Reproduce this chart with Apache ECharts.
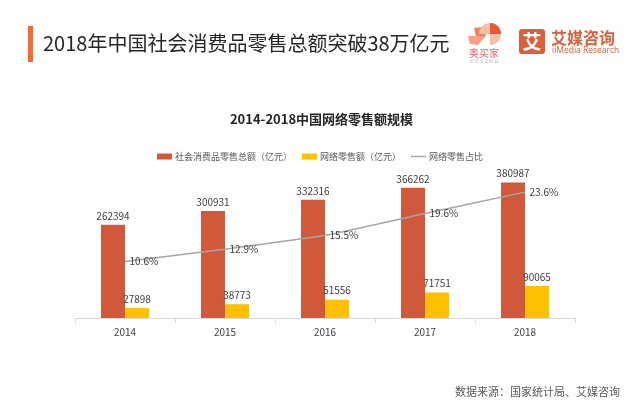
<!DOCTYPE html>
<html><head><meta charset="utf-8">
<script src="https://cdn.jsdelivr.net/npm/echarts@6/dist/echarts.min.js"></script>
<style>html,body{margin:0;padding:0;background:#fff}#c{width:643px;height:401px}</style>
</head><body><div id="c"></div>
<script>
const categories = ['2014','2015','2016','2017','2018'];
const retailTotal = [262394, 300931, 332316, 366262, 380987];
const onlineRetail = [27898, 38773, 51556, 71751, 90065];
const onlineShare = [10.6, 12.9, 15.5, 19.6, 23.6];
const seriesNames = ['社会消费品零售总额（亿元）', '网络零售额（亿元）', '网络零售占比'];

const FF = '"Noto Sans CJK SC", "Noto Sans", sans-serif';
const chart = echarts.init(document.getElementById('c'), null, {renderer: 'canvas'});
chart.setOption({
  backgroundColor: '#fff',
  animation: false,
  textStyle: {fontFamily: FF},
  title: [{
    text: '2014-2018中国网络零售额规模',
    left: 'center', top: 108,
    textStyle: {fontSize: 13, fontWeight: 'bold', color: '#262626', fontFamily: FF}
  }],
  legend: {
    left: 152, top: 147,
    itemWidth: 15, itemHeight: 6, itemGap: 10,
    symbolKeepAspect: true,
    textStyle: {fontSize: 9, color: '#595959', fontFamily: FF, padding: [0,0,0,-2]},
    data: [
      {name: seriesNames[0], icon: 'rect'},
      {name: seriesNames[1], icon: 'rect'},
      {name: seriesNames[2], icon: 'path://M0,0H15V1.5H0Z', itemStyle: {color: '#a6a6a6', opacity: 1}}
    ]
  },
  grid: {left: 75, right: 68, top: 158, bottom: 83},
  xAxis: {
    type: 'category', data: categories,
    axisLine: {lineStyle: {color: '#d9d9d9'}},
    axisTick: {show: true, length: 5, lineStyle: {color: '#d9d9d9'}},
    axisLabel: {fontSize: 10, color: '#404040', margin: 9, fontFamily: FF}
  },
  yAxis: [
    {type: 'value', min: 0, max: 450000, show: false, splitLine: {show: false}},
    {type: 'value', min: 0, max: 30, show: false, splitLine: {show: false}}
  ],
  series: [
    {
      name: seriesNames[0], type: 'bar', data: retailTotal,
      barWidth: 24, barGap: '0%',
      itemStyle: {color: '#d0583b'},
      label: {show: true, position: 'top', distance: 4, fontSize: 10, color: '#404040', fontFamily: FF}
    },
    {
      name: seriesNames[1], type: 'bar', data: onlineRetail,
      barWidth: 24, barGap: '0%',
      itemStyle: {color: '#ffc000'},
      label: {show: true, position: 'top', distance: 4, fontSize: 10, color: '#404040', fontFamily: FF}
    },
    {
      name: seriesNames[2], type: 'line', yAxisIndex: 1, data: onlineShare,
      symbol: 'circle', symbolSize: 1, showSymbol: true, smooth: 0.15,
      lineStyle: {color: '#a6a6a6', width: 1.5},
      itemStyle: {color: 'rgba(166,166,166,0)'},
      label: {show: true, position: 'right', distance: 4, fontSize: 10, color: '#404040',
              formatter: p => p.value.toFixed(1) + '%', fontFamily: FF}
    }
  ],
  graphic: [
    {type: 'rect', shape: {x: 28, y: 26, width: 5, height: 36}, style: {fill: '#f26b3a'}},
    {type: 'text', x: 43, y: 43, style: {text: '2018年中国社会消费品零售总额突破38万亿元', fontSize: 20, fill: '#262626', fontFamily: FF, verticalAlign: 'middle'}},
    // 奥买家 logo
    {type: 'polygon', shape: {points: [[468,36],[486,36],[478,45],[470,44]]}, style: {fill: '#f6a08a'}},
    {type: 'polygon', shape: {points: [[474,28],[484,27],[486,36],[476,36]]}, style: {fill: '#ef8060'}},
    {type: 'sector', shape: {cx: 490, cy: 34, r: 11, r0: 0, startAngle: Math.PI, endAngle: Math.PI*2.5}, style: {fill: '#f4c0a8'}},
    {type: 'sector', shape: {cx: 490, cy: 34, r: 11, r0: 0, startAngle: Math.PI*1.5, endAngle: Math.PI*2.0}, style: {fill: '#e8573a'}},
    {type: 'text', x: 484, y: 53, style: {text: '奥买家', fontSize: 10, fill: '#ef6476', fontFamily: FF, align: 'center', verticalAlign: 'middle'}},
    {type: 'text', x: 484, y: 61, style: {text: '全 球 进 口 商 品', fontSize: 4, fill: '#bbbbbb', fontFamily: FF, align: 'center', verticalAlign: 'middle'}},
    // 艾媒咨询 logo
    {type: 'rect', shape: {x: 519, y: 29, width: 26, height: 25, r: 3}, style: {fill: '#d9603b'}},
    {type: 'text', x: 532, y: 42, style: {text: '艾', fontSize: 19, fontWeight: 'bold', fill: '#fff', fontFamily: FF, align: 'center', verticalAlign: 'middle'}},
    {type: 'text', x: 551, y: 38, style: {text: '艾媒咨询', fontSize: 16, fontWeight: 'bold', fill: '#d9603b', fontFamily: FF, verticalAlign: 'middle'}},
    {type: 'text', x: 552, y: 51, style: {text: 'iiMedia Research', fontSize: 8.5, fill: '#d9603b', fontFamily: '"Open Sans", sans-serif', verticalAlign: 'middle'}},
    // source
    {type: 'text', x: 455, y: 392, style: {text: '数据来源：国家统计局、艾媒咨询', fontSize: 11, fill: '#595959', fontFamily: FF, verticalAlign: 'middle'}}
  ]
});
</script></body></html>
